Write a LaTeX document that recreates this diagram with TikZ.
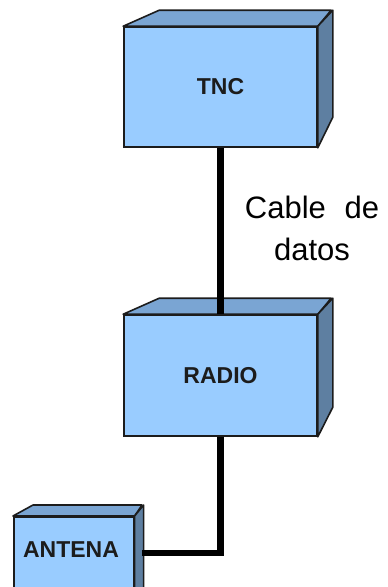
\documentclass[tikz,border=0pt]{standalone}
\usepackage{fontspec}
\setmainfont{Liberation Sans}
\definecolor{faceblue}{HTML}{99CCFF}
\definecolor{topblue}{HTML}{7AA5D3}
\definecolor{sideblue}{HTML}{5E7FA1}
\definecolor{edge}{HTML}{1C1C1C}
\begin{document}
\begin{tikzpicture}[x=1pt,y=-1pt,
  boxlabel/.style={font=\fontsize{23}{26}\selectfont\bfseries,text=edge},
  front/.style={draw=edge,line width=1.6pt,fill=faceblue,rectangle,inner sep=0pt,boxlabel},
  topface/.style={draw=edge,line width=1.6pt,fill=topblue,line join=round},
  sideface/.style={draw=edge,line width=1.6pt,fill=sideblue,line join=round},
  cable/.style={line width=6.5pt,draw=black,line join=miter}]
\useasboundingbox (0,0) rectangle (388,587);
\clip (0,0) rectangle (388,587);
\fill[white] (0,0) rectangle (388,587);

% TNC box
\node[front,minimum width=193pt,minimum height=120pt] (tnc) at (220.5,87) {TNC};
\draw[topface] (tnc.north west) -- ++(36,-16) -- ++(172,0) -- (tnc.north east) -- cycle;
\draw[sideface] (tnc.north east) -- ++(15,-16) -- ++(0,107) -- (tnc.south east) -- cycle;

% RADIO box
\node[front,minimum width=193pt,minimum height=121pt] (radio) at (220.5,375.5) {RADIO};
\draw[topface] (radio.north west) -- ++(36,-16) -- ++(172,0) -- (radio.north east) -- cycle;
\draw[sideface] (radio.north east) -- ++(15,-16) -- ++(0,109) -- (radio.south east) -- cycle;

% ANTENA box (runs past the lower edge)
\node[front,minimum width=120pt,minimum height=90pt,anchor=north west] (ant) at (13,516) {};
\node[boxlabel] (antlabel) at (71,550) {ANTENA};
\draw[topface] (ant.north west) -- ++(20,-11) -- ++(109,0) -- (ant.north east) -- cycle;
\draw[sideface] (ant.north east) -- ++(9,-11) -- ++(0,100) -- (ant.south east) -- cycle;

% cables
\coordinate (antjack) at (142,553);
\draw[cable] (tnc.south) -- (radio.north);
\draw[cable] (radio.south) |- (antjack);

% cable label
\node[font=\fontsize{31}{42}\selectfont,align=center,text=black] (lbl) at (312,228)
  {Cable\hspace{0.6em}de\\datos};
\end{tikzpicture}
\end{document}
